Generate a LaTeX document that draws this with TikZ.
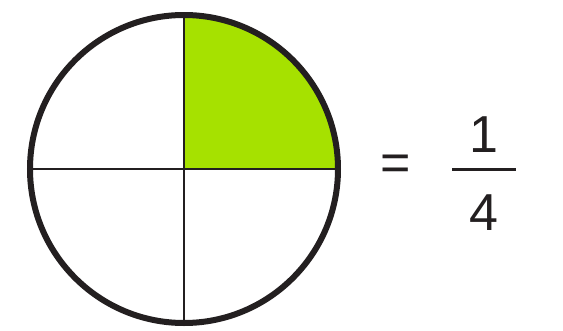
\documentclass[tikz,border=0pt]{standalone}
\usepackage{fontspec}
\setmainfont{Liberation Sans}
\definecolor{quartergreen}{HTML}{A6E100}
\definecolor{ink}{HTML}{231F20}
\begin{document}
\begin{tikzpicture}[x=1pt,y=-1pt,
  rim/.style={draw=ink,line width=6pt},
  divider/.style={draw=ink,line width=2pt},
  bigtxt/.style={font=\fontsize{52}{52}\selectfont,text=ink,inner sep=0pt}]
\useasboundingbox (0,0) rectangle (563,330);
\coordinate (c) at (184,169);
\fill[quartergreen] (c) -- (184+154,169) arc[start angle=0,end angle=-90,radius=154] -- cycle;
\coordinate (top) at (184,15);
\coordinate (bot) at (184,323);
\coordinate (lft) at (30,169);
\coordinate (rgt) at (338,169);
\draw[divider] (top) -- (bot);
\draw[divider] (lft) -- (rgt);
\draw[rim] (c) circle[radius=154];
\node[bigtxt] (eq) at (396,168) {=};
\coordinate (barl) at (452,169);
\coordinate (barr) at (516,169);
\draw[draw=ink,line width=3pt] (barl) -- (barr);
\node[bigtxt,anchor=base] (num) at (484,152) {1};
\node[bigtxt,anchor=base] (den) at (484,230) {4};
\end{tikzpicture}
\end{document}
